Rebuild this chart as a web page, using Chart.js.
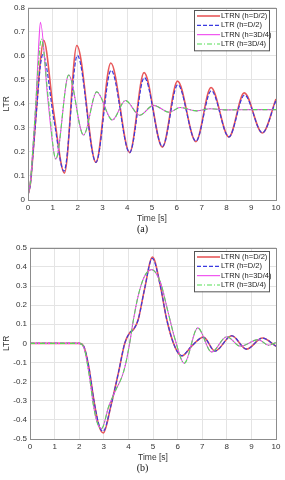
<!DOCTYPE html>
<html>
<head>
<meta charset="utf-8">
<script src="https://cdn.jsdelivr.net/npm/chart.js@4.4.0/dist/chart.umd.min.js"></script>
<style>
  html, body { margin: 0; padding: 0; background: #fff; }
  body { width: 285px; height: 480px; position: relative; overflow: hidden; }
  .box { position: absolute; left: 0; width: 285px; height: 240px; }
  .cap { position: absolute; left: 0; width: 285px; text-align: center;
         font-family: "Liberation Serif", serif; font-size: 10px; color: #111; }
</style>
</head>
<body>
<div class="box" style="top:0"><canvas id="chartA" width="285" height="240"></canvas></div>
<div class="box" style="top:240px"><canvas id="chartB" width="285" height="240"></canvas></div>
<div class="cap" style="top:223px">(a)</div>
<div class="cap" style="top:462px">(b)</div>
<script>
// legend labels
const seriesNames = ['LTRN (h=D/2)', 'LTR (h=D/2)', 'LTRN (h=3D/4)', 'LTR (h=3D/4)'];

// ---- chart (a) ----
const aTimeRed = [0, 0.1, 0.2, 0.35, 0.5, 0.63, 1.03, 1.47, 1.97, 2.74, 3.34, 4.1, 4.68, 5.42, 6.03, 6.77, 7.38, 8.1, 8.72, 9.45, 10];
const aLtrnHalf = [0.02, 0.07, 0.19, 0.39, 0.58, 0.665, 0.37, 0.112, 0.643, 0.157, 0.57, 0.197, 0.53, 0.22, 0.495, 0.243, 0.468, 0.262, 0.446, 0.279, 0.42];
const aTimeBlue = [0, 0.1, 0.2, 0.35, 0.5, 0.6, 1.05, 1.45, 1.99, 2.74, 3.35, 4.1, 4.69, 5.42, 6.04, 6.77, 7.39, 8.1, 8.73, 9.45, 10];
const aLtrHalf = [0.02, 0.07, 0.19, 0.38, 0.56, 0.605, 0.33, 0.12, 0.602, 0.157, 0.54, 0.197, 0.51, 0.222, 0.48, 0.245, 0.455, 0.263, 0.437, 0.28, 0.415];
const aTimeMag = [0, 0.1, 0.2, 0.32, 0.42, 0.5, 0.8, 1.12, 1.64, 2.24, 2.77, 3.4, 3.93, 4.5, 5.06, 5.7, 6.13, 6.8, 7.35, 8, 9, 10];
const aLtrnQuarter = [0.02, 0.08, 0.22, 0.41, 0.62, 0.74, 0.42, 0.17, 0.52, 0.27, 0.45, 0.333, 0.414, 0.353, 0.394, 0.365, 0.385, 0.371, 0.38, 0.375, 0.376, 0.376];
const aTimeGreen = [0, 0.1, 0.2, 0.32, 0.42, 0.54, 0.82, 1.12, 1.64, 2.24, 2.77, 3.4, 3.93, 4.5, 5.06, 5.7, 6.13, 6.8, 7.35, 8, 9, 10];
const aLtrQuarter = [0.02, 0.08, 0.22, 0.41, 0.57, 0.67, 0.42, 0.17, 0.52, 0.27, 0.45, 0.333, 0.414, 0.353, 0.394, 0.365, 0.385, 0.371, 0.38, 0.375, 0.376, 0.376];

// ---- chart (b) ----
const bTimeRed = [0, 2.0, 2.2, 2.4, 2.6, 2.8, 2.98, 3.3, 3.6, 3.85, 4.05, 4.22, 4.4, 4.65, 4.98, 5.3, 5.55, 5.85, 6.17, 6.6, 7.05, 7.52, 8.2, 8.8, 9.45, 10];
const bLtrnHalf = [0, 0, -0.02, -0.13, -0.3, -0.43, -0.468, -0.32, -0.15, 0.0, 0.055, 0.075, 0.125, 0.28, 0.452, 0.3, 0.13, -0.005, -0.066, -0.01, 0.033, -0.04, 0.04, -0.03, 0.028, -0.015];
const bTimeBlue = [0, 2.0, 2.2, 2.4, 2.6, 2.8, 2.97, 3.3, 3.6, 3.85, 4.05, 4.22, 4.4, 4.65, 4.97, 5.3, 5.55, 5.85, 6.16, 6.6, 7.05, 7.52, 8.2, 8.8, 9.45, 10];
const bLtrHalf = [0, 0, -0.02, -0.13, -0.3, -0.425, -0.46, -0.32, -0.15, 0.0, 0.055, 0.075, 0.125, 0.28, 0.445, 0.3, 0.13, -0.005, -0.064, -0.01, 0.032, -0.04, 0.04, -0.03, 0.028, -0.015];
const bTimeMag = [0, 2.0, 2.2, 2.4, 2.6, 2.75, 2.91, 3.2, 3.5, 3.75, 3.9, 4.05, 4.2, 4.4, 4.65, 4.95, 5.3, 5.6, 5.9, 6.27, 6.82, 7.38, 8.0, 8.55, 9.28, 9.7, 10];
const bLtrnQuarter = [0, 0, -0.025, -0.16, -0.34, -0.42, -0.445, -0.33, -0.24, -0.17, -0.1, 0.0, 0.12, 0.25, 0.35, 0.386, 0.32, 0.17, 0.02, -0.104, 0.081, -0.045, 0.035, -0.015, 0.02, -0.01, 0.005];
const bTimeGreen = [0, 2.0, 2.2, 2.4, 2.6, 2.75, 2.91, 3.2, 3.5, 3.75, 3.9, 4.05, 4.2, 4.4, 4.65, 4.95, 5.3, 5.6, 5.9, 6.27, 6.82, 7.38, 8.0, 8.55, 9.28, 9.7, 10];
const bLtrQuarter = [0, 0, -0.025, -0.16, -0.34, -0.42, -0.445, -0.33, -0.24, -0.17, -0.1, 0.0, 0.12, 0.25, 0.35, 0.386, 0.32, 0.17, 0.02, -0.104, 0.081, -0.045, 0.035, -0.015, 0.02, -0.01, 0.005];

const xTicks = [0, 1, 2, 3, 4, 5, 6, 7, 8, 9, 10];

const styles = [
    { color: '#e8585a', width: 1.6, dash: [], order: 4 },
    { color: '#3a3ae0', width: 1.2, dash: [4, 2], order: 3 },
    { color: '#ee44ee', width: 1.1, dash: [], order: 2 },
    { color: '#55dd55', width: 1.1, dash: [5, 2, 1, 2], order: 1 }
];

function toPoints(ts, vs) {
    return ts.map((t, i) => ({ x: t, y: vs[i] }));
}

// frame around the plot area + boxed legend inside the top-right corner
const framePlugin = {
    id: 'frameAndLegend',
    afterDraw(chart, args, opts) {
        const ctx = chart.ctx;
        const a = chart.chartArea;
        ctx.save();
        ctx.strokeStyle = '#8c8c8c';
        ctx.lineWidth = 1;
        ctx.strokeRect(Math.round(a.left) + 0.5, Math.round(a.top) + 0.5,
            Math.round(a.right - a.left), Math.round(a.bottom - a.top));

        const x = opts.x, y = opts.y, w = opts.w, rowH = opts.rowH;
        const sets = chart.data.datasets;
        const h = rowH * sets.length + 3;
        ctx.fillStyle = '#fff';
        ctx.fillRect(x, y, w, h);
        ctx.strokeStyle = '#555';
        ctx.strokeRect(x + 0.5, y + 0.5, w, h);
        ctx.font = '7.5px "Liberation Sans", Arial, sans-serif';
        ctx.textBaseline = 'middle';
        ctx.fillStyle = '#222';
        sets.forEach((ds, i) => {
            const cy = y + 6 + i * rowH;
            ctx.beginPath();
            ctx.strokeStyle = ds.borderColor;
            ctx.lineWidth = ds.borderWidth;
            ctx.setLineDash(ds.borderDash || []);
            ctx.moveTo(x + 3, cy);
            ctx.lineTo(x + 26, cy);
            ctx.stroke();
            ctx.setLineDash([]);
            ctx.fillText(ds.label, x + 27, cy);
        });
        ctx.restore();
    }
};

function makeChart(id, series, yMin, yMax, yLeftWidth, pad, legendPos) {
    const datasets = series.map((s, i) => ({
        label: seriesNames[i],
        data: toPoints(s[0], s[1]),
        borderColor: styles[i].color,
        borderWidth: styles[i].width,
        borderDash: styles[i].dash,
        order: styles[i].order,
        pointRadius: 0,
        fill: false,
        cubicInterpolationMode: 'monotone'
    }));
    const font = { family: '"Liberation Sans", Arial, sans-serif', size: 8 };
    const titleFont = { family: '"Liberation Sans", Arial, sans-serif', size: 8.5 };
    return new Chart(document.getElementById(id), {
        type: 'line',
        data: { datasets },
        options: {
            responsive: false,
            animation: false,
            layout: { padding: pad },
            plugins: {
                legend: { display: false },
                tooltip: { enabled: false },
                frameAndLegend: legendPos
            },
            scales: {
                x: {
                    type: 'linear',
                    min: 0, max: 10,
                    afterBuildTicks: s => { s.ticks = xTicks.map(v => ({ value: v })); },
                    afterFit: s => { s.height = 24; },
                    grid: { color: '#e4e4e4', drawTicks: false },
                    border: { display: false },
                    ticks: { font, color: '#333', padding: 3, maxRotation: 0 },
                    title: { display: true, text: 'Time [s]', font: titleFont, color: '#333', padding: { top: 1, bottom: 0 } }
                },
                y: {
                    min: yMin, max: yMax,
                    ticks: { stepSize: 0.1, font, color: '#333', padding: 3 },
                    afterFit: s => { s.width = yLeftWidth; },
                    grid: { color: '#e4e4e4', drawTicks: false },
                    border: { display: false },
                    title: { display: true, text: 'LTR', font: titleFont, color: '#333', padding: { top: 2, bottom: 0 } }
                }
            }
        },
        plugins: [framePlugin]
    });
}

makeChart('chartA', [
    [aTimeRed, aLtrnHalf], [aTimeBlue, aLtrHalf], [aTimeMag, aLtrnQuarter], [aTimeGreen, aLtrQuarter]
], 0, 0.8, 28, { top: 5, right: 9, bottom: 16, left: 0 }, { x: 194, y: 10, w: 75, rowH: 9.33 });

makeChart('chartB', [
    [bTimeRed, bLtrnHalf], [bTimeBlue, bLtrHalf], [bTimeMag, bLtrnQuarter], [bTimeGreen, bLtrQuarter]
], -0.5, 0.5, 30, { top: 6, right: 9, bottom: 17, left: 0 }, { x: 194, y: 11, w: 75, rowH: 9.33 });
</script>
</body>
</html>
